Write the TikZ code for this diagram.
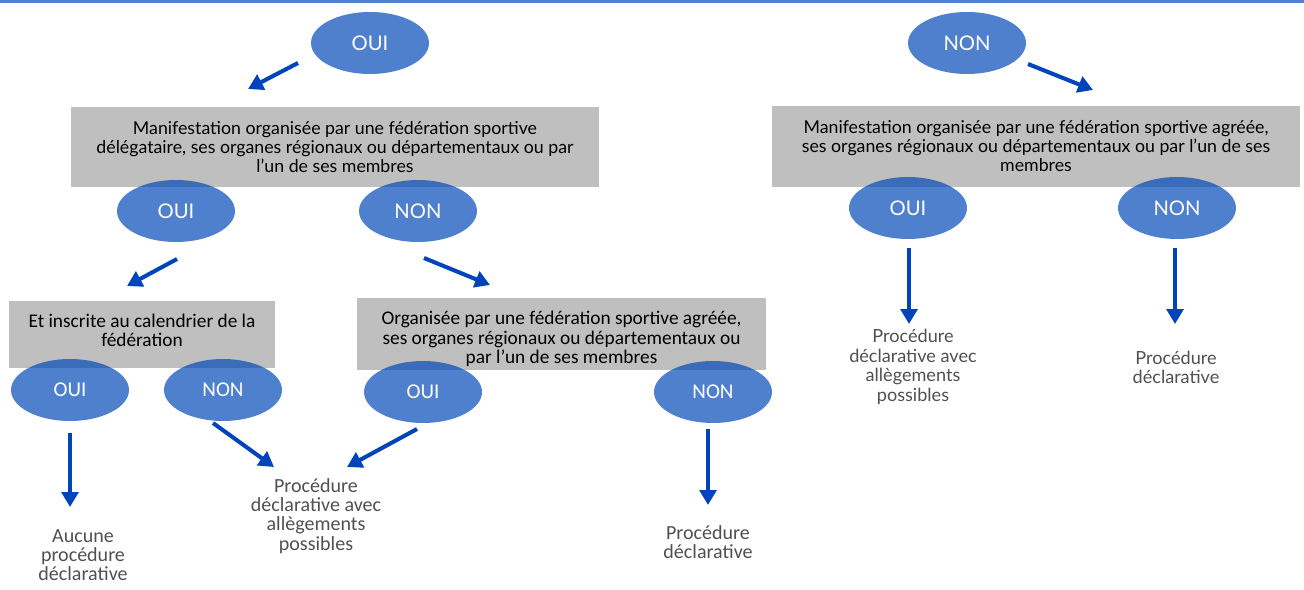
\documentclass[tikz,border=0pt]{standalone}
\usepackage{fontspec}
\setmainfont{Lato}
\newfontfamily\calibfont{Carlito}
\usetikzlibrary{shapes.geometric,arrows.meta}
\definecolor{ovalblue}{RGB}{4,74,184}
\definecolor{linkblue}{RGB}{0,68,187}
\definecolor{boxgray}{RGB}{191,191,191}
\definecolor{topline}{RGB}{79,129,205}
\definecolor{proctext}{RGB}{80,80,80}

\begin{document}
\begin{tikzpicture}[x=0.02cm,y=-0.02cm,
    oval/.style={ellipse,fill=ovalblue,fill opacity=0.7,text opacity=1,text=white,inner sep=0pt,minimum width=2.36cm,minimum height=1.24cm,font=\fontsize{11.5}{12}\selectfont},
    oval_c/.style={oval,font=\calibfont\fontsize{12}{12}\selectfont},
    gray_box/.style={rectangle,fill=boxgray,align=center,inner sep=0pt,font=\fontsize{10.1}{10.8}\selectfont},
    gray_box_c/.style={gray_box,font=\calibfont\fontsize{11}{10.9}\selectfont},
    proc/.style={align=center,text=proctext,inner sep=0pt,font=\calibfont\fontsize{11.4}{10.9}\selectfont},
    proc_l/.style={proc,font=\fontsize{10.3}{11.2}\selectfont},
    link/.style={draw=linkblue,line width=2.3pt,-{Triangle[width=9.5pt,length=8.5pt]}}]

    \useasboundingbox (0,0) rectangle (1304,590);
    \fill[topline] (0,0) rectangle (1304,3);

    % boxes
    \node[gray_box,minimum width=10.56cm,minimum height=1.6cm] (manifDel) at (335,147) {Manifestation organisée par une fédération sportive\\délégataire, ses organes régionaux ou départementaux ou par\\l’un de ses membres};
    \node[gray_box,minimum width=10.58cm,minimum height=1.62cm] (manifAgr) at (1036,146.5) {Manifestation organisée par une fédération sportive agréée,\\ses organes régionaux ou départementaux ou par l’un de ses\\membres};
    \node[gray_box_c,minimum width=5.32cm,minimum height=1.34cm,text depth=4.8pt] (calBox) at (142,334.5) {Et inscrite au calendrier de la\\fédération};
    \node[gray_box_c,minimum width=8.18cm,minimum height=1.44cm,text height=35pt] (orgBox) at (561.5,334) {Organisée par une fédération sportive agréée,\\ses organes régionaux ou départementaux ou\\par l’un de ses membres};

    % ovals
    \node[oval] (ouiTop) at (370,43) {OUI};
    \node[oval] (nonTop) at (967,43) {NON};
    \node[oval] (ouiDel) at (176,211) {OUI};
    \node[oval] (nonDel) at (418,211) {NON};
    \node[oval] (ouiAgr) at (908,208) {OUI};
    \node[oval] (nonAgr) at (1177,208) {NON};
    \node[oval_c] (ouiCal) at (70,390) {OUI};
    \node[oval_c] (nonCal) at (223,390) {NON};
    \node[oval_c] (ouiOrg) at (423,392) {OUI};
    \node[oval_c] (nonOrg) at (713,392) {NON};

    % results
    \node[proc] (aucune) at (83,555) {Aucune\\procédure\\déclarative};
    \node[proc] (procAll) at (316,516) {Procédure\\déclarative avec\\allègements\\possibles};
    \node[proc] (procDecl) at (708,542) {Procédure\\déclarative};
    \node[proc_l] (procAllR) at (913,367) {Procédure\\déclarative avec\\allègements\\possibles};
    \node[proc_l] (procDeclR) at (1176,367.5) {Procédure\\déclarative};

    % arrow ends
    \coordinate (a1) at (298,63);   \coordinate (a2) at (248,89);
    \coordinate (b1) at (1028,64);  \coordinate (b2) at (1093,90);
    \coordinate (c1) at (177,259);  \coordinate (c2) at (127,286);
    \coordinate (d1) at (424,258);  \coordinate (d2) at (490,285);
    \coordinate (e1) at (909,248);  \coordinate (e2) at (909,324);
    \coordinate (f1) at (1175,248); \coordinate (f2) at (1175,324);
    \coordinate (g1) at (70,433);   \coordinate (g2) at (70,507);
    \coordinate (h1) at (213,423);  \coordinate (h2) at (274,467);
    \coordinate (i1) at (417,429);  \coordinate (i2) at (347,467);
    \coordinate (j1) at (708,429);  \coordinate (j2) at (708,505);

    \draw[link] (a1) -- (a2);
    \draw[link] (b1) -- (b2);
    \draw[link] (c1) -- (c2);
    \draw[link] (d1) -- (d2);
    \draw[link] (e1) -- (e2);
    \draw[link] (f1) -- (f2);
    \draw[link] (g1) -- (g2);
    \draw[link] (h1) -- (h2);
    \draw[link] (i1) -- (i2);
    \draw[link] (j1) -- (j2);

\end{tikzpicture}
\end{document}
